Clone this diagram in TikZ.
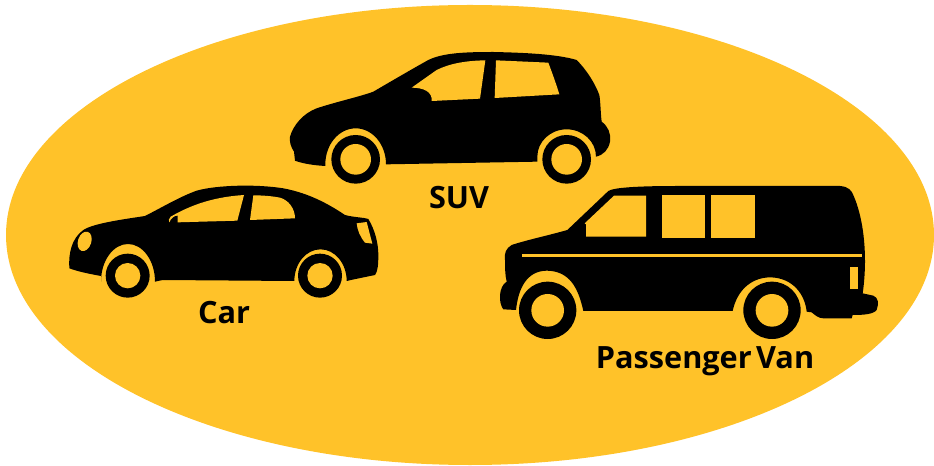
\documentclass[tikz,border=0pt]{standalone}
\usepackage{fontspec}
\setmainfont[WordSpace=0.55]{Open Sans}
\definecolor{amber}{HTML}{FFC229}
\tikzset{
  body/.style={fill=black,draw=none},
  glass/.style={fill=amber,draw=none},
  lbl/.style={font=\bfseries\fontsize{23}{26}\selectfont,text=black,inner sep=0pt},
}
\begin{document}
\begin{tikzpicture}[x=0.75pt,y=-0.75pt]
\useasboundingbox (0,0) rectangle (934,466);
\fill[white] (0,0) rectangle (934,466);
\fill[amber] (470,235) ellipse (464 and 230);
% CAR
\begin{scope}[shift={(50,170)},x=0.25pt,y=-0.25pt]
\fill[body] (58,295) .. controls (55,250) and (65,205) .. (100,180)
 .. controls (130,160) and (220,148) .. (285,138)
 .. controls (340,110) and (390,80) .. (440,62)
 .. controls (500,45) and (620,42) .. (700,55)
 .. controls (780,70) and (840,105) .. (885,135)
 .. controls (910,142) and (940,142) .. (955,147)
 .. controls (975,180) and (985,220) .. (985,255)
 .. controls (985,285) and (983,305) .. (975,315)
 -- (912,328) -- (890,333)
 arc[start angle=360,end angle=180,x radius=78.5,y radius=95]
 -- (338,330) -- (315,335)
 arc[start angle=360,end angle=180,x radius=81,y radius=113]
 -- (153,318) .. controls (120,312) and (85,305) .. (58,295) -- cycle;
\fill[glass] (383,157) -- (562,152) -- (582,75) .. controls (510,80) and (440,95) .. (362,140) .. controls (356,146) and (355,152) .. (358,157) .. controls (362,145) and (375,135) .. (383,137) -- cycle;
\fill[glass] (600,150) -- (735,145) .. controls (735,115) and (715,90) .. (690,83) .. controls (665,78) and (635,76) .. (610,76) -- cycle;
\fill[glass,rotate around={-18:(104,214)}] (104,214) ellipse (20 and 30);
\fill[glass] (920,160) -- (950,156) -- (967,221) -- (945,218) .. controls (930,200) and (922,180) .. (920,160) -- cycle;
\fill[black] (233,317) circle (66);
\fill[glass] (233,317) circle (38);
\fill[black] (810,317) circle (66);
\fill[glass] (810,317) circle (38);
\end{scope}
% SUV
\begin{scope}[shift={(280,40)},x=0.25pt,y=-0.25pt]
\fill[body] (30,290) .. controls (40,255) and (70,220) .. (110,205)
 .. controls (170,185) and (240,170) .. (280,155)
 .. controls (340,120) and (400,85) .. (445,60)
 .. controls (490,38) and (560,36) .. (640,36)
 .. controls (730,38) and (830,42) .. (890,60)
 .. controls (920,90) and (945,130) .. (958,165)
 .. controls (962,190) and (962,225) .. (965,245)
 .. controls (985,260) and (993,280) .. (990,305)
 .. controls (985,330) and (970,345) .. (948,350)
 arc[start angle=360,end angle=180,x radius=88,y radius=82]
 -- (772,365) -- (318,373)
 arc[start angle=360,end angle=180,x radius=91,y radius=108]
 -- (136,378) .. controls (100,376) and (65,370) .. (45,362)
 -- (42,335) .. controls (32,320) and (28,305) .. (30,290) -- cycle;
\fill[glass] (455,183) -- (600,176) -- (616,61) .. controls (560,62) and (510,70) .. (470,90) -- (395,143) .. controls (430,143) and (458,155) .. (455,183) -- cycle;
\fill[glass] (648,61) -- (805,68) .. controls (815,95) and (828,130) .. (838,163) -- (644,174) -- cycle;
\fill[black] (227,358) circle (73);
\fill[glass] (227,358) circle (46);
\fill[black] (860,358) circle (73);
\fill[glass] (860,358) circle (46);
\end{scope}
% VAN
\begin{scope}[shift={(490,175)},x=0.25pt,y=-0.25pt]
\fill[body] (45,255) .. controls (42,235) and (48,220) .. (65,210)
 .. controls (110,195) and (180,180) .. (232,165)
 -- (355,48) .. controls (370,38) and (440,33) .. (560,33)
 -- (1050,33) .. controls (1075,35) and (1085,45) .. (1092,65)
 .. controls (1115,120) and (1125,190) .. (1125,260)
 .. controls (1125,290) and (1122,330) .. (1118,355)
 -- (1150,362) .. controls (1165,368) and (1167,385) .. (1160,405)
 .. controls (1150,418) and (1120,420) .. (1088,420)
 -- (1085,430) -- (1000,430) .. controls (985,430) and (975,420) .. (965,412)
 -- (950,410)
 .. controls (945,360) and (910,308) .. (840,307)
 .. controls (780,308) and (740,350) .. (728,408)
 -- (280,408)
 .. controls (265,340) and (240,288) .. (170,287)
 .. controls (110,288) and (85,340) .. (78,405)
 -- (40,403) .. controls (25,385) and (25,335) .. (50,320)
 .. controls (45,300) and (45,275) .. (45,255) -- cycle;
\fill[glass] (288,185) -- (288,148) -- (284,145) -- (372,62) -- (468,62) -- (468,185) -- cycle;
\fill[glass] (515,60) rectangle (645,190);
\fill[glass] (664,60) rectangle (795,190);
\fill[glass] (97,237) rectangle (1115,247);
\fill[glass] (1081,277) rectangle (1105,342);
\fill[black] (173,406) circle (86);
\fill[glass] (173,406) circle (49);
\fill[black] (846,406) circle (86);
\fill[glass] (846,406) circle (49);
\end{scope}
\node[lbl,anchor=base] (car) at (224,323) {Car};
\node[lbl,anchor=base] (suv) at (459,209) {SUV};
\node[lbl,anchor=base] (van) at (705,368) {Passenger Van};
\end{tikzpicture}
\end{document}
